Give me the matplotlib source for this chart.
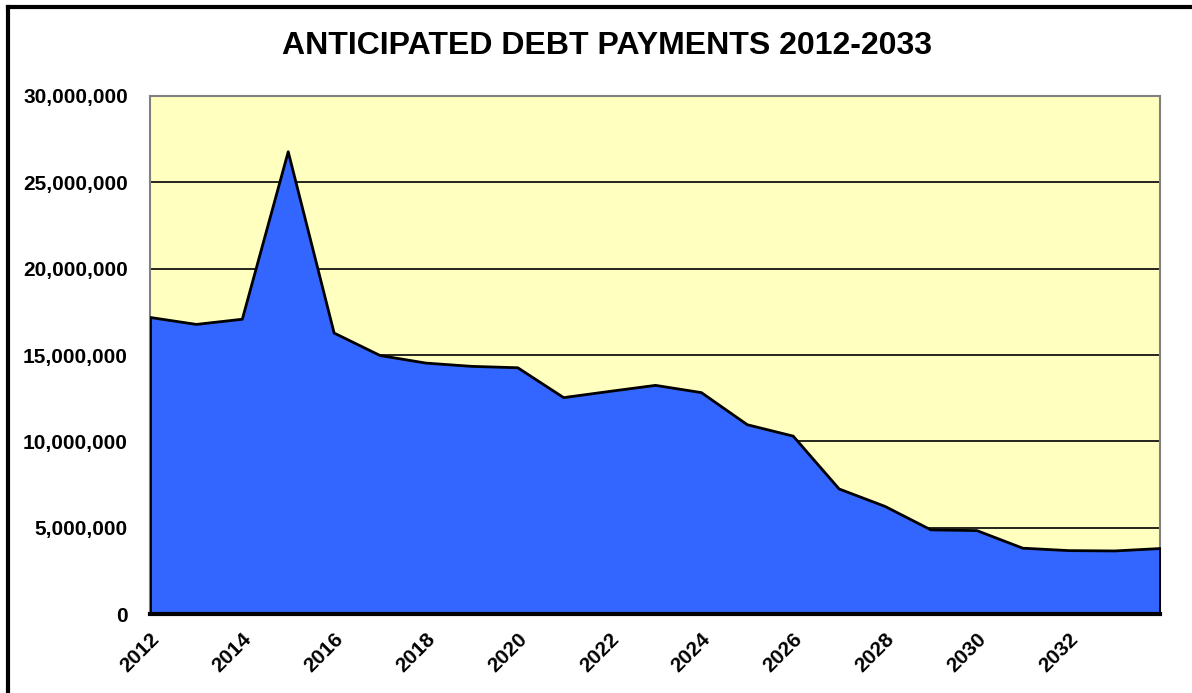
import matplotlib
matplotlib.use("Agg")
import matplotlib.pyplot as plt
from matplotlib.lines import Line2D
from matplotlib.ticker import FuncFormatter

# data
years = list(range(2012, 2035))
payments = [17.2e6, 16.8e6, 17.1e6, 26.8e6, 16.3e6, 15.0e6, 14.56e6, 14.37e6,
            14.29e6, 12.56e6, 12.92e6, 13.27e6, 12.85e6, 10.99e6, 10.33e6,
            7.27e6, 6.26e6, 4.90e6, 4.86e6, 3.84e6, 3.70e6, 3.68e6, 3.82e6]
tick_years = list(range(2012, 2033, 2))

plt.rcParams['font.family'] = ['Liberation Sans', 'DejaVu Sans']

fig = plt.figure(figsize=(11.92, 6.93), dpi=100)
ax = fig.add_axes([150/1192, 1 - 614/693, 1010/1192, 518/693])

x = [y - years[0] for y in years]
ax.set_facecolor('#FFFFC0')
ax.fill_between(x, 0, payments, facecolor='#3366FF', edgecolor='black',
                linewidth=2, zorder=3)

ax.set_xlim(0, x[-1])
ax.set_ylim(0, 30e6)
ax.set_yticks(range(0, 30000001, 5000000))
ax.yaxis.set_major_formatter(FuncFormatter(lambda v, p: f'{int(v):,}'))
ax.set_xticks([y - years[0] for y in tick_years])
ax.set_xticklabels([str(y) for y in tick_years], rotation=45, ha='right',
                   va='top', rotation_mode='anchor')
ax.tick_params(axis='both', length=0, labelsize=15)
ax.tick_params(axis='y', pad=16)
ax.tick_params(axis='x', pad=11)
for lab in ax.get_xticklabels() + ax.get_yticklabels():
    lab.set_fontweight('bold')

ax.grid(axis='y', color='black', linewidth=1.2, zorder=1)
ax.set_axisbelow(True)
for side in ['top', 'left', 'right']:
    ax.spines[side].set_color('#808080')
    ax.spines[side].set_linewidth(1.5)
ax.spines['bottom'].set_color('black')
ax.spines['bottom'].set_linewidth(3)
ax.spines['bottom'].set_zorder(4)

fig.text(607/1192, 1 - 46/693, 'ANTICIPATED DEBT PAYMENTS 2012-2033',
         ha='center', va='center', fontsize=23, fontweight='bold')

# outer frame (top and left visible)
fig.add_artist(Line2D([8/1192, 1.01], [1 - 7/693, 1 - 7/693], color='black', linewidth=3))
fig.add_artist(Line2D([8/1192, 8/1192], [1 - 7/693, -0.01], color='black', linewidth=3))

fig.savefig('out.png', dpi=100)
